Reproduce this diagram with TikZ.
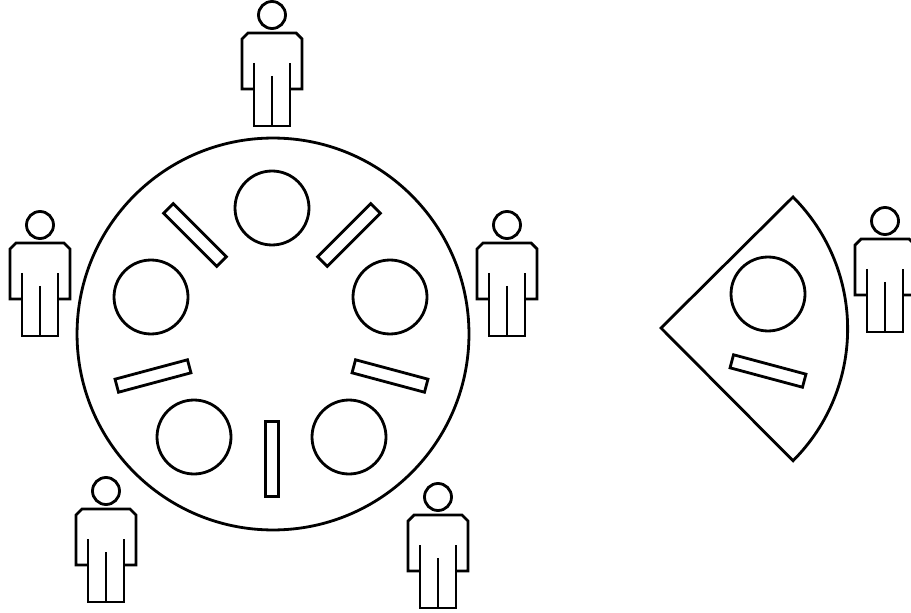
\documentclass[tikz,border=0pt]{standalone}
\usepackage{tikz}
\usetikzlibrary{positioning}

\tikzset{
	plate/.style={draw, circle, inner sep=0pt, minimum size=1.48cm},
	stick/.style={draw, rectangle, inner sep=0pt, minimum width=1.5cm, minimum height=0.27cm},
	person/.pic={
		\draw (0,0) circle (13.5);
		\draw[line join=miter] (-18,-48) -- (-18,-111) -- (18,-111) -- (18,-48);
		\draw (-18,-74) -- (-30,-74) -- (-30,-24) -- (-24,-18) -- (24,-18) -- (30,-24) -- (30,-74) -- (18,-74);
		\draw (0,-61) -- (0,-111);
	}
}

\begin{document}
\begin{tikzpicture}[x=0.02cm, y=0.02cm, line width=1.6pt]
		\useasboundingbox (0,0) rectangle (911,612);
		\clip (0,0) rectangle (911,612);
		
		% Table
		\node[draw, circle, inner sep=0pt, minimum size=7.84cm] (table) at (273,278) {};
		
		% Plates
		\foreach \x/\y/\n in {272/404/a, 151/315/b, 390/315/c, 194/175/d, 349/175/e} {
			\node[plate] (plate\n) at (\x,\y) {};
		}
		
		% Sticks
		\foreach \x/\y/\a/\n in {195/377/-45/a, 349/377/45/b, 153/236/15/c, 390/236/-15/d, 272/153/90/e} {
			\node[stick, rotate=\a] (stick\n) at (\x,\y) {};
		}
		
		% Wedge
		\coordinate (apex) at (661,284);
		\draw[line join=miter] (apex) -- (793,415) arc (45:-45:186.5) -- cycle;
		\node[plate] (plateWedge) at (768,318) {};
		\node[stick, rotate=-15] (stickWedge) at (768,241) {};
		
		% People
		\foreach \x/\y/\n in {272/597/a, 507/387/b, 40/387/c, 106/121/d, 438/115/e, 885/391/f} {
			\pic (person\n) at (\x,\y) {person};
		}
	\end{tikzpicture}
\end{document}
